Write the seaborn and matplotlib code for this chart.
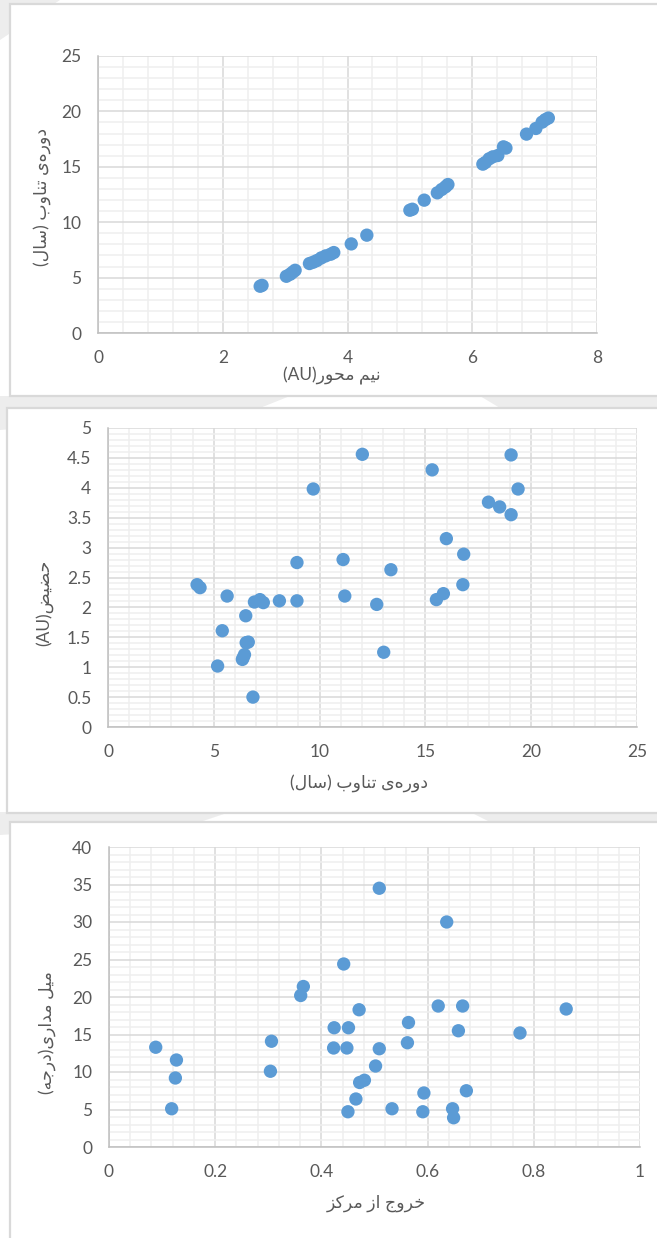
import re
import matplotlib
matplotlib.use("Agg")
import matplotlib.pyplot as plt
import seaborn as sns
import pandas as pd
from matplotlib.patches import Rectangle, Polygon
from matplotlib.ticker import MultipleLocator, FuncFormatter

# ---------------- data ----------------
semi_major_au = [2.60, 2.63, 3.02, 3.08, 3.12, 3.16, 3.39, 3.45, 3.51, 3.58, 3.65, 3.73,
                 3.78, 4.06, 4.31, 5.00, 5.04, 5.23, 5.44, 5.51, 5.57, 5.61, 6.17, 6.21,
                 6.27, 6.33, 6.41, 6.50, 6.54, 6.87, 7.02, 7.12, 7.17, 7.22]
period_a = [4.22, 4.30, 5.12, 5.30, 5.48, 5.66, 6.27, 6.39, 6.54, 6.78, 6.96, 7.11,
            7.26, 8.04, 8.83, 11.08, 11.17, 11.99, 12.65, 12.95, 13.19, 13.40, 15.24, 15.39,
            15.72, 15.90, 16.02, 16.80, 16.69, 17.95, 18.46, 19.03, 19.25, 19.40]

period_years = [4.21, 4.35, 5.63, 5.18, 5.40, 6.51, 6.53, 6.63, 6.45, 6.39, 6.35, 6.85,
                6.92, 7.18, 7.34, 8.10, 8.93, 8.93, 9.70, 11.11, 11.19, 12.02, 12.70, 13.03,
                13.37, 15.32, 15.52, 15.85, 15.99, 16.77, 16.81, 17.98, 18.51, 19.05, 19.05, 19.38]
perihelion_au = [2.38, 2.33, 2.19, 1.02, 1.61, 1.86, 1.41, 1.42, 1.21, 1.16, 1.13, 0.50,
                 2.09, 2.13, 2.08, 2.11, 2.75, 2.11, 3.98, 2.80, 2.19, 4.56, 2.05, 1.25,
                 2.63, 4.30, 2.13, 2.23, 3.15, 2.38, 2.89, 3.76, 3.68, 4.55, 3.55, 3.98]

eccentricity = [0.088, 0.118, 0.125, 0.127, 0.304, 0.306, 0.361, 0.366, 0.423, 0.424,
                0.442, 0.448, 0.450, 0.451, 0.465, 0.471, 0.472, 0.481, 0.502, 0.509,
                0.509, 0.533, 0.562, 0.564, 0.591, 0.593, 0.620, 0.636, 0.647, 0.649,
                0.658, 0.666, 0.673, 0.774, 0.861]
inclination_deg = [13.3, 5.1, 9.2, 11.6, 10.1, 14.1, 20.2, 21.4, 13.2, 15.9,
                   24.4, 13.2, 4.7, 15.9, 6.4, 18.3, 8.6, 8.9, 10.8, 13.1,
                   34.5, 5.1, 13.9, 16.6, 4.7, 7.2, 18.8, 30.0, 5.1, 3.9,
                   15.5, 18.8, 7.5, 15.2, 18.4]

label_semi_major = "نیم محور(AU)"
label_period = "دوره\u200cی تناوب (سال)"
label_perihelion = "حضیض(AU)"
label_ecc = "خروج از مرکز"
label_incl = "میل مداری(درجه)"

# ---------------- simple Persian shaping (matplotlib has no bidi/shaping) ----------------
FORMS = {
    'ا': ('\uFE8D', '\uFE8E', None, None),
    'ب': ('\uFE8F', '\uFE90', '\uFE91', '\uFE92'),
    'ت': ('\uFE95', '\uFE96', '\uFE97', '\uFE98'),
    'ج': ('\uFE9D', '\uFE9E', '\uFE9F', '\uFEA0'),
    'ح': ('\uFEA1', '\uFEA2', '\uFEA3', '\uFEA4'),
    'خ': ('\uFEA5', '\uFEA6', '\uFEA7', '\uFEA8'),
    'د': ('\uFEA9', '\uFEAA', None, None),
    'ر': ('\uFEAD', '\uFEAE', None, None),
    'ز': ('\uFEAF', '\uFEB0', None, None),
    'س': ('\uFEB1', '\uFEB2', '\uFEB3', '\uFEB4'),
    'ض': ('\uFEBD', '\uFEBE', '\uFEBF', '\uFEC0'),
    'ک': ('\uFED9', '\uFEDA', '\uFEDB', '\uFEDC'),
    'ل': ('\uFEDD', '\uFEDE', '\uFEDF', '\uFEE0'),
    'م': ('\uFEE1', '\uFEE2', '\uFEE3', '\uFEE4'),
    'ن': ('\uFEE5', '\uFEE6', '\uFEE7', '\uFEE8'),
    'ه': ('\uFEE9', '\uFEEA', '\uFEEB', '\uFEEC'),
    'و': ('\uFEED', '\uFEEE', None, None),
    'ی': ('\uFEEF', '\uFEF0', '\uFEF3', '\uFEF4'),
}


def rtl(text):
    chars = list(text)
    out = []
    for i, c in enumerate(chars):
        if c not in FORMS:
            out.append(c)
            continue
        iso, fin, ini, med = FORMS[c]
        prev = chars[i - 1] if i > 0 else ''
        nxt = chars[i + 1] if i + 1 < len(chars) else ''
        jp = prev in FORMS and FORMS[prev][2] is not None
        jn = ini is not None and nxt in FORMS
        out.append(med if (jp and jn) else fin if jp else ini if jn else iso)
    shaped = ''.join(ch for ch in out if ch != '\u200c')
    runs = re.findall(r'[A-Za-z0-9]+|[^A-Za-z0-9]+', shaped)
    mirror = {'(': ')', ')': '('}
    vis = []
    for r in reversed(runs):
        if re.match(r'[A-Za-z0-9]', r):
            vis.append(r)
        else:
            vis.append(''.join(mirror.get(ch, ch) for ch in reversed(r)))
    return ''.join(vis)


# ---------------- style ----------------
sns.set_theme(style="white")
plt.rcParams['font.family'] = ['Lato', 'DejaVu Sans']

W, H = 657, 1238
fig = plt.figure(figsize=(W / 100, H / 100), dpi=100)
fig.patch.set_facecolor('white')

BLUE = '#5B9BD5'
TXT = '#595959'
AX = '#bfbfbf'


def px_rect(l, t, r, b):
    return [l / W, 1 - b / H, (r - l) / W, (b - t) / H]


# watermark-like faint shapes in the background
for pts in [
    [(0, 0), (60, 0), (0, 40)],
    [(0, 396), (290, 396), (260, 408), (0, 430)],
    [(480, 396), (657, 396), (657, 408), (500, 408)],
    [(0, 812), (230, 812), (200, 822), (0, 835)],
    [(470, 812), (657, 812), (657, 822), (490, 822)],
]:
    fig.add_artist(Polygon([(x / W, 1 - y / H) for x, y in pts], closed=True,
                           transform=fig.transFigure, facecolor='#ededed',
                           edgecolor='none', zorder=-3))

# panel frames
for (l, t, r, b) in [(10, 4, 670, 396), (7, 408, 670, 813), (10, 822, 670, 1250)]:
    fig.add_artist(Rectangle((l / W, 1 - b / H), (r - l) / W, (b - t) / H,
                             transform=fig.transFigure, facecolor='white',
                             edgecolor='#d9d9d9', lw=1.6, zorder=-2))


def style_axes(ax, xlim, ylim, xmaj, xmin, ymaj, ymin):
    ax.set_xlim(*xlim)
    ax.set_ylim(*ylim)
    ax.xaxis.set_major_locator(MultipleLocator(xmaj))
    ax.xaxis.set_minor_locator(MultipleLocator(xmin))
    ax.yaxis.set_major_locator(MultipleLocator(ymaj))
    ax.yaxis.set_minor_locator(MultipleLocator(ymin))
    fmt = FuncFormatter(lambda v, p: f"{v:g}")
    ax.xaxis.set_major_formatter(fmt)
    ax.yaxis.set_major_formatter(fmt)
    ax.set_facecolor('white')
    ax.grid(which='minor', color='#efefef', lw=1.1, zorder=0)
    ax.grid(which='major', color='#d9d9d9', lw=1.1, zorder=0)
    ax.set_axisbelow(True)
    for s in ['top', 'right']:
        ax.spines[s].set_visible(False)
    for s in ['left', 'bottom']:
        ax.spines[s].set_color(AX)
        ax.spines[s].set_linewidth(1.1)
    ax.tick_params(which='major', length=4, width=1.1, color=AX, labelcolor=TXT,
                   labelsize=12.5, pad=8, direction='out')
    ax.tick_params(which='minor', length=0)


def set_labels(ax, xl, yl, xpos, ypos):
    ax.set_xlabel(rtl(xl), family=['Lato', 'DejaVu Sans'], fontsize=12.5, color=TXT, va='center')
    ax.set_ylabel(rtl(yl), family=['Lato', 'DejaVu Sans'], fontsize=12.5, color=TXT, va='center')
    ax.xaxis.set_label_coords(*xpos)
    ax.yaxis.set_label_coords(*ypos)


MS = 92

# ---------------- panel 1 ----------------
ax1 = fig.add_axes(px_rect(98, 56, 597, 333))
df1 = pd.DataFrame({'a': semi_major_au, 'p': period_a})
sns.scatterplot(data=df1, x='a', y='p', ax=ax1, color=BLUE, s=MS, edgecolor='none', zorder=3)
style_axes(ax1, (0, 8), (0, 25), 2, 0.4, 5, 1)
set_labels(ax1, label_semi_major, label_period, (0.468, -0.155), (-0.112, 0.49))

# ---------------- panel 2 ----------------
ax2 = fig.add_axes(px_rect(108, 428, 637, 727))
df2 = pd.DataFrame({'p': period_years, 'q': perihelion_au})
sns.scatterplot(data=df2, x='p', y='q', ax=ax2, color=BLUE, s=MS, edgecolor='none', zorder=3)
style_axes(ax2, (0, 25), (0, 5), 5, 1, 0.5, 0.1)
set_labels(ax2, label_period, label_perihelion, (0.474, -0.187), (-0.121, 0.415))

# ---------------- panel 3 ----------------
ax3 = fig.add_axes(px_rect(109, 847, 640, 1147))
df3 = pd.DataFrame({'e': eccentricity, 'i': inclination_deg})
sns.scatterplot(data=df3, x='e', y='i', ax=ax3, color=BLUE, s=MS, edgecolor='none', zorder=3)
style_axes(ax3, (0, 1), (0, 40), 0.2, 0.04, 5, 1)
set_labels(ax3, label_ecc, label_incl, (0.503, -0.187), (-0.117, 0.38))

fig.savefig('out.png', dpi=100)
